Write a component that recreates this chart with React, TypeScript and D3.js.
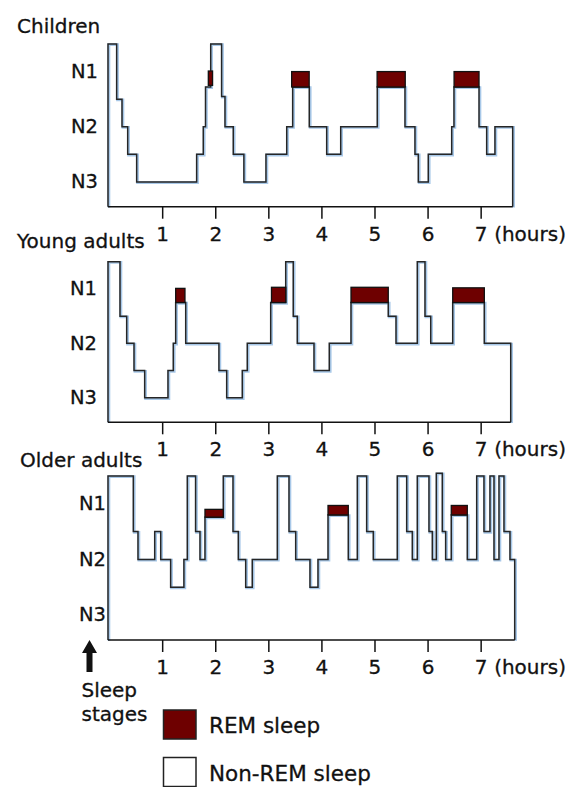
import React, { useEffect, useRef } from 'react';
import * as d3 from 'd3';

type Step = [number, number];
type Rem = [number, number, number, number];

// stage scale: 0.5 = awake, 1 = REM top, ~1.25 = N1, 1.5 = light transition, 2 = N2, 2.5, 3 = N3
const hourTicks = [1, 2, 3, 4, 5, 6, 7];
const stageLabels = ['N1', 'N2', 'N3'];
const stageLevels = [1, 2, 3];

// [hour, stage from this hour on]
const childrenSteps: Step[] = [
  [-0.03, 0.5], [0.133, 1.5], [0.234, 2], [0.341, 2.5], [0.51, 3], [1.64, 2.5], [1.765, 2],
  [1.807, 1.28], [1.905, 0.5], [2.11, 1.45], [2.174, 2], [2.33, 2.5], [2.53, 3], [2.946, 2.5],
  [3.337, 2], [3.449, 1.28], [3.762, 2], [4.09, 2.5], [4.354, 2], [5.043, 1.28], [5.565, 2],
  [5.753, 2.5], [5.816, 3], [6.004, 2.5], [6.445, 2], [6.488, 1.28], [6.96, 2], [7.104, 2.5],
  [7.26, 2],
];
const childrenEnd = 7.594;
// [start, end, top stage, bottom stage]
const childrenRem: Rem[] = [
  [1.86, 1.94, 0.99, 1.25], [3.43, 3.76, 1.0, 1.28], [5.04, 5.57, 1.0, 1.28], [6.49, 6.96, 1.0, 1.28],
];

const youngSteps: Step[] = [
  [-0.03, 0.5], [0.196, 1.5], [0.322, 2], [0.46, 2.5], [0.661, 3], [1.1, 2.5], [1.2, 2],
  [1.245, 1.25], [1.434, 2], [2.06, 2.5], [2.206, 3], [2.5, 2.5], [2.594, 2], [3.035, 1.25],
  [3.318, 0.5], [3.46, 1.5], [3.536, 2], [3.851, 2.5], [4.139, 2], [4.548, 1.25], [5.25, 1.5],
  [5.396, 2], [5.797, 0.5], [5.942, 1.5], [6.05, 2], [6.464, 1.25], [7.059, 2],
];
const youngEnd = 7.557;
const youngRem: Rem[] = [
  [1.245, 1.42, 0.99, 1.25], [3.05, 3.32, 0.97, 1.25], [4.548, 5.25, 0.97, 1.25], [6.464, 7.06, 0.98, 1.25],
];

const olderSteps: Step[] = [
  [-0.03, 0.5], [0.447, 1.5], [0.535, 2], [0.85, 1.5], [0.963, 2], [1.15, 2.5], [1.4, 2],
  [1.464, 0.5], [1.62, 1.5], [1.703, 2], [1.797, 1.24], [2.142, 0.5], [2.325, 1.5], [2.425, 2],
  [2.564, 2.5], [2.688, 2], [3.16, 0.5], [3.38, 1.5], [3.506, 2], [3.775, 2.5], [3.926, 2],
  [4.115, 1.2], [4.497, 2], [4.667, 0.5], [4.843, 1.5], [4.968, 2], [5.42, 0.5], [5.597, 1.5],
  [5.703, 2], [5.797, 0.5], [6.017, 1.5], [6.08, 2], [6.155, 0.45], [6.268, 1.5], [6.331, 2],
  [6.437, 1.2], [6.739, 2], [6.916, 0.5], [7.053, 1.5], [7.166, 0.5], [7.242, 2], [7.336, 0.5],
  [7.43, 1.5], [7.543, 2],
];
const olderEnd = 7.632;
const olderRem: Rem[] = [
  [1.797, 2.142, 1.1, 1.24], [4.115, 4.497, 1.03, 1.2], [6.437, 6.739, 1.03, 1.2],
];

const legendItems = ['REM sleep', 'Non-REM sleep'];

const App: React.FC = () => {
  const ref = useRef<SVGSVGElement | null>(null);

  useEffect(() => {
    if (!ref.current) return;
    const svg = d3.select(ref.current);
    svg.selectAll('*').remove();

    const font = "'DejaVu Sans', sans-serif";
    const ink = '#111';
    const remColor = '#6e0000';
    const x = d3.scaleLinear().domain([-0.03, 7.6]).range([108, 513]);

    // slightly heavier text, like the printed figure
    const label = (sel: d3.Selection<SVGTextElement, any, any, any>, size: number) =>
      sel.attr('font-family', font)
        .attr('font-size', size)
        .attr('fill', ink)
        .attr('stroke', ink)
        .attr('stroke-width', 0.3);

    const panels = [
      { title: 'Children', steps: childrenSteps, end: childrenEnd, rem: childrenRem, top: 44, bottom: 206.7, titleX: 17, titleY: 33, labelX: 98 },
      { title: 'Young adults', steps: youngSteps, end: youngEnd, rem: youngRem, top: 261.7, bottom: 422.3, titleX: 17, titleY: 248, labelX: 97 },
      { title: 'Older adults', steps: olderSteps, end: olderEnd, rem: olderRem, top: 476, bottom: 640, titleX: 20, titleY: 467, labelX: 106 },
    ];

    panels.forEach(p => {
      const y = d3.scaleLinear().domain([0.5, 3.45]).range([p.top, p.bottom]);
      const g = svg.append('g');

      const pts: Step[] = [[p.steps[0][0], 3.45], ...p.steps, [p.end, 3.45]];
      const line = d3.line<Step>()
        .x(d => x(d[0]))
        .y(d => y(d[1]))
        .curve(d3.curveStepAfter);

      // soft blue halo seen along the trace
      g.append('path')
        .attr('d', line(pts))
        .attr('fill', 'white')
        .attr('stroke', '#a8c8e8')
        .attr('stroke-width', 2.8)
        .attr('transform', 'translate(0.9,0.7)');

      g.append('path')
        .attr('d', line(pts))
        .attr('fill', 'none')
        .attr('stroke', '#262626')
        .attr('stroke-width', 1.5);

      g.selectAll('rect.rem')
        .data(p.rem)
        .enter()
        .append('rect')
        .attr('class', 'rem')
        .attr('x', d => x(d[0]))
        .attr('y', d => y(d[2]))
        .attr('width', d => x(d[1]) - x(d[0]))
        .attr('height', d => y(d[3]) - y(d[2]))
        .attr('fill', remColor)
        .attr('stroke', ink)
        .attr('stroke-width', 1.3);

      // x axis
      g.append('line')
        .attr('x1', x(p.steps[0][0]))
        .attr('x2', x(p.end))
        .attr('y1', p.bottom)
        .attr('y2', p.bottom)
        .attr('stroke', ink)
        .attr('stroke-width', 1.6);

      g.selectAll('line.tick')
        .data(hourTicks)
        .enter()
        .append('line')
        .attr('class', 'tick')
        .attr('x1', d => x(d))
        .attr('x2', d => x(d))
        .attr('y1', p.bottom)
        .attr('y2', p.bottom + 12)
        .attr('stroke', ink)
        .attr('stroke-width', 1.5);

      label(g.selectAll('text.tick')
        .data(hourTicks)
        .enter()
        .append('text')
        .attr('class', 'tick')
        .attr('x', d => x(d))
        .attr('y', p.bottom + 34)
        .attr('text-anchor', 'middle'), 20)
        .text(d => String(d));

      label(g.append('text')
        .attr('x', x(7) + 13)
        .attr('y', p.bottom + 34), 20)
        .text('(hours)');

      label(g.selectAll('text.stage')
        .data(stageLevels)
        .enter()
        .append('text')
        .attr('class', 'stage')
        .attr('x', p.labelX)
        .attr('y', d => y(d) + 6.5)
        .attr('text-anchor', 'end'), 19.5)
        .text((d, i) => stageLabels[i]);

      label(g.append('text')
        .attr('x', p.titleX)
        .attr('y', p.titleY), 20)
        .text(p.title);
    });

    // "Sleep stages" arrow
    svg.append('path')
      .attr('d', 'M89.5,640 L97,653 L92.5,653 L92.5,672 L86.5,672 L86.5,653 L82,653 Z')
      .attr('fill', ink);
    ['Sleep', 'stages'].forEach((t, i) => {
      label(svg.append('text')
        .attr('x', 81.5)
        .attr('y', 697 + i * 24), 20)
        .text(t);
    });

    // legend
    const legend = svg.append('g');
    legendItems.forEach((item, i) => {
      legend.append('rect')
        .attr('x', 163.5)
        .attr('y', 710 + i * 47.5)
        .attr('width', 32.5)
        .attr('height', 29)
        .attr('fill', i === 0 ? remColor : 'white')
        .attr('stroke', '#222')
        .attr('stroke-width', 1.5);
      label(legend.append('text')
        .attr('x', 209)
        .attr('y', 733 + i * 48), 21.5)
        .text(item);
    });

    return () => {
      svg.selectAll('*').remove();
    };
  }, []);

  return (
    <svg
      ref={ref}
      width={582}
      height={787}
      style={{ position: 'absolute', left: 0, top: 0, background: 'white' }}
    />
  );
};

export default App;
